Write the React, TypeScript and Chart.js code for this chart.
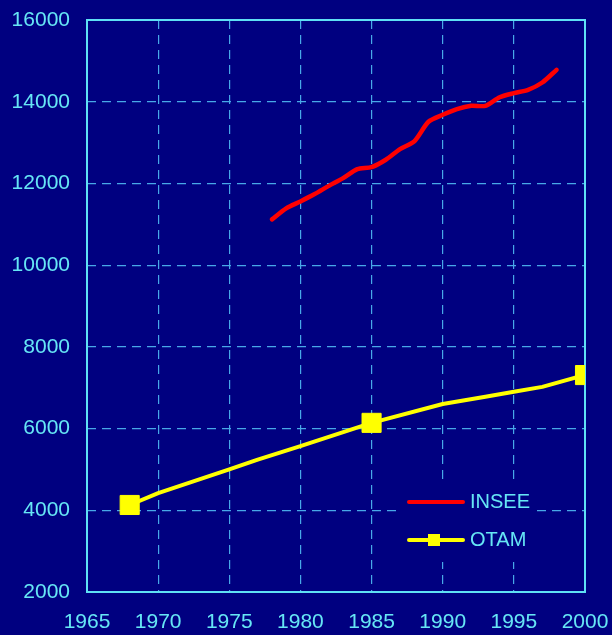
import { useEffect, useRef } from 'react';
import { Chart, registerables } from 'chart.js';

Chart.register(...registerables);

const inseeYears = [1978, 1979, 1980, 1981, 1982, 1983, 1984, 1985, 1986, 1987, 1988, 1989, 1990, 1991, 1992, 1993, 1994, 1995, 1996, 1997, 1998];
const inseeValues = [11120, 11390, 11560, 11740, 11940, 12130, 12350, 12400, 12580, 12840, 13030, 13510, 13680, 13820, 13900, 13900, 14110, 14210, 14290, 14470, 14780];

const otamYears = [1968, 1970, 1975, 1977, 1980, 1985, 1990, 1993, 1995, 1997, 2000];
const otamValues = [4130, 4420, 5000, 5240, 5570, 6140, 6600, 6780, 6900, 7020, 7310];
const otamMarkerYears = [1968, 1985, 2000];

const xMin = 1965;
const xMax = 2000;
const xStep = 5;
const yMin = 2000;
const yMax = 16000;
const yStep = 2000;

const seriesNames = ['INSEE', 'OTAM'];

const BG = '#000080';
const TEXT = '#66E6F5';
const BORDER = '#5FE0F5';
const GRID = '#48A8E8';
const RED = '#FF0000';
const YELLOW = '#FFFF00';
const FONT = "'Liberation Sans', Arial, sans-serif";

export default function App() {
  const ref = useRef<HTMLCanvasElement | null>(null);

  useEffect(() => {
    document.body.style.margin = '0';
    const canvas = ref.current;
    if (!canvas) return;

    const bgPlugin = {
      id: 'bg',
      beforeDraw(chart: any) {
        const { ctx, width, height } = chart;
        ctx.save();
        ctx.fillStyle = BG;
        ctx.fillRect(0, 0, width, height);
        ctx.restore();
      },
      beforeDatasetsDraw(chart: any) {
        const { ctx, chartArea } = chart;
        const { left, top, right, bottom } = chartArea;
        ctx.save();
        ctx.fillStyle = BG;
        ctx.fillRect(right - 185, bottom - 110, 137, 80);
        ctx.strokeStyle = BORDER;
        ctx.lineWidth = 2;
        ctx.strokeRect(left, top, right - left, bottom - top);
        ctx.restore();
      },
      afterDatasetsDraw(chart: any) {
        const { ctx, chartArea } = chart;
        const { right, bottom } = chartArea;
        ctx.save();
        ctx.lineCap = 'round';
        ctx.strokeStyle = RED;
        ctx.lineWidth = 4;
        ctx.beginPath();
        ctx.moveTo(right - 176, bottom - 90);
        ctx.lineTo(right - 122, bottom - 90);
        ctx.stroke();
        ctx.strokeStyle = YELLOW;
        ctx.beginPath();
        ctx.moveTo(right - 176, bottom - 52);
        ctx.lineTo(right - 122, bottom - 52);
        ctx.stroke();
        ctx.fillStyle = YELLOW;
        ctx.fillRect(right - 157, bottom - 58, 12, 12);
        ctx.fillStyle = TEXT;
        ctx.font = `20px ${FONT}`;
        ctx.textBaseline = 'middle';
        ctx.textAlign = 'left';
        ctx.fillText(seriesNames[0], right - 115, bottom - 90);
        ctx.fillText(seriesNames[1], right - 115, bottom - 52);
        ctx.restore();
      },
    };

    const gridColor = (lo: number, hi: number) => (c: any) =>
      c.tick && (c.tick.value === lo || c.tick.value === hi) ? 'rgba(0,0,0,0)' : GRID;

    const chart = new Chart(canvas, {
      type: 'line',
      data: {
        datasets: [
          {
            label: seriesNames[0],
            data: inseeYears.map((y, i) => ({ x: y, y: inseeValues[i] })),
            borderColor: RED,
            backgroundColor: RED,
            borderWidth: 4.5,
            pointRadius: 0,
            tension: 0.25,
            borderCapStyle: 'round',
            borderJoinStyle: 'round',
          },
          {
            label: seriesNames[1],
            data: otamYears.map((y, i) => ({ x: y, y: otamValues[i] })),
            borderColor: YELLOW,
            backgroundColor: YELLOW,
            borderWidth: 4,
            pointStyle: 'rect',
            pointRadius: otamYears.map((y) => (otamMarkerYears.includes(y) ? 13.5 : 0)),
            pointBorderWidth: 1,
            pointBackgroundColor: YELLOW,
            pointBorderColor: YELLOW,
            tension: 0,
            borderCapStyle: 'round',
            borderJoinStyle: 'round',
          },
        ],
      },
      options: {
        animation: false,
        responsive: true,
        maintainAspectRatio: false,
        layout: { padding: { top: 20, right: 27, left: 0, bottom: 0 } },
        plugins: {
          legend: { display: false },
          tooltip: { enabled: false },
        },
        scales: {
          x: {
            type: 'linear',
            min: xMin,
            max: xMax,
            afterFit: (s: any) => {
              s.height = 43;
              s.paddingLeft = 0;
              s.paddingRight = 0;
              s.paddingTop = 0;
              s.paddingBottom = 0;
            },
            ticks: {
              stepSize: xStep,
              color: TEXT,
              font: { family: FONT, size: 21 },
              padding: 18,
              maxRotation: 0,
              callback: (v: any) => String(v),
            },
            border: { display: false, dash: [9, 6] },
            grid: {
              drawTicks: false,
              lineWidth: 1.2,
              color: gridColor(xMin, xMax),
            },
          },
          y: {
            type: 'linear',
            min: yMin,
            max: yMax,
            afterFit: (s: any) => {
              s.width = 87;
              s.paddingLeft = 0;
              s.paddingRight = 0;
              s.paddingTop = 0;
              s.paddingBottom = 0;
            },
            ticks: {
              stepSize: yStep,
              color: TEXT,
              font: { family: FONT, size: 21 },
              padding: 17,
              callback: (v: any) => String(v),
            },
            border: { display: false, dash: [9, 6] },
            grid: {
              drawTicks: false,
              lineWidth: 1.2,
              color: gridColor(yMin, yMax),
            },
          },
        },
      } as any,
      plugins: [bgPlugin],
    });

    return () => chart.destroy();
  }, []);

  return (
    <div style={{ width: 612, height: 635, position: 'relative', background: BG }}>
      <canvas ref={ref} />
    </div>
  );
}
